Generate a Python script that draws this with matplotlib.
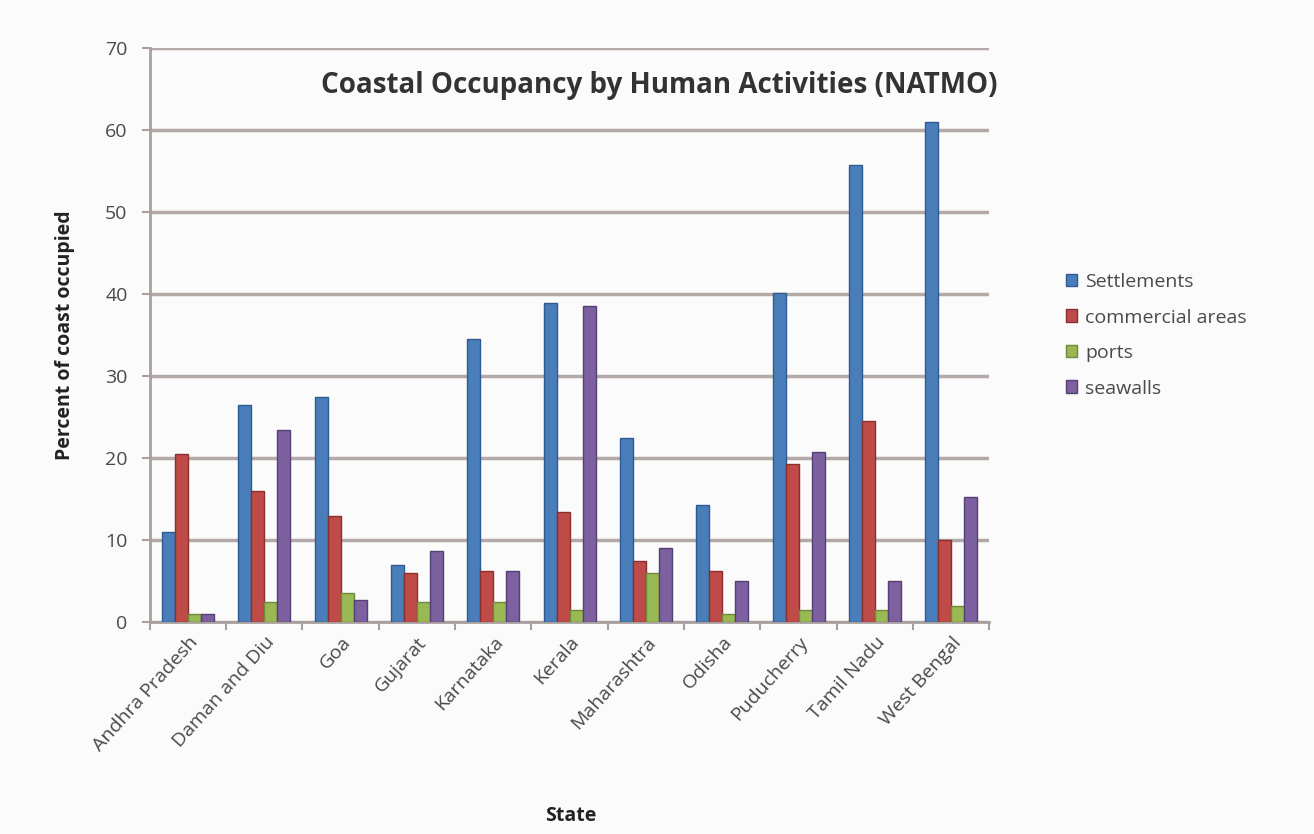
import matplotlib
matplotlib.use("Agg")
import matplotlib.pyplot as plt
import numpy as np

states = ["Andhra Pradesh", "Daman and Diu", "Goa", "Gujarat", "Karnataka", "Kerala",
          "Maharashtra", "Odisha", "Puducherry", "Tamil Nadu", "West Bengal"]
settlements = [11, 26.5, 27.5, 7, 34.5, 38.9, 22.5, 14.3, 40.2, 55.8, 61]
commercial = [20.5, 16, 13, 6, 6.3, 13.5, 7.5, 6.3, 19.3, 24.5, 10]
ports = [1, 2.5, 3.5, 2.5, 2.5, 1.5, 6, 1, 1.5, 1.5, 2]
seawalls = [1, 23.5, 2.7, 8.7, 6.2, 38.6, 9, 5, 20.7, 5, 15.3]

series = [("Settlements", settlements, "#4a7ebb", "#2f5a8f"),
          ("commercial areas", commercial, "#be4b48", "#8a2f2d"),
          ("ports", ports, "#98b954", "#6f8a3a"),
          ("seawalls", seawalls, "#7d60a0", "#554075")]

plt.rcParams["font.family"] = ["Open Sans", "DejaVu Sans"]

fig = plt.figure(figsize=(13.14, 8.34), dpi=100, facecolor="#fbfbfb")
ax = fig.add_axes([0.114, 0.254, 0.639, 0.688], facecolor="#fbfbfb")

x = np.arange(len(states))
w = 0.17
for i, (name, vals, col, edge) in enumerate(series):
    ax.bar(x + (i - 1.5) * w, vals, w, color=col, edgecolor=edge, linewidth=1.0,
           label=name, zorder=3)

ax.set_ylim(0, 70)
ax.set_xlim(-0.5, len(states) - 0.5)
ax.set_yticks(range(0, 71, 10))
ax.yaxis.grid(True, color="#b3a9a6", linewidth=2.5, zorder=0)
ax.set_axisbelow(True)

for s in ["top", "right"]:
    ax.spines[s].set_visible(False)
for s in ["left", "bottom"]:
    ax.spines[s].set_color("#a8a09e")
    ax.spines[s].set_linewidth(2)

ax.tick_params(axis="y", labelsize=14, colors="#a8a09e", labelcolor="#4a4a4a",
               length=6, width=1.5, pad=10)
ax.set_xticks(x)
ax.set_xticklabels(states, rotation=48, ha="right", rotation_mode="anchor",
                   fontsize=14, color="#4a4a4a")
ax.tick_params(axis="x", length=0, pad=8)
ax.set_xticks(np.arange(-0.5, len(states), 1), minor=True)
ax.tick_params(axis="x", which="minor", length=6, width=1.5, colors="#a8a09e")

ax.set_ylabel("Percent of coast occupied", fontsize=14, fontweight="bold",
              color="#222222", labelpad=22)
fig.text(0.434, 0.022, "State", ha="center", va="center", fontsize=14,
         fontweight="bold", color="#222222")

ax.text(0.607, 0.935, "Coastal Occupancy by Human Activities (NATMO)",
        transform=ax.transAxes, ha="center", va="center", fontsize=20,
        fontweight="bold", color="#333333")

leg = ax.legend(loc="center left", bbox_to_anchor=(1.07, 0.5), frameon=False,
                fontsize=14, handlelength=0.6, handleheight=0.6, handletextpad=0.4,
                labelspacing=0.9)
for t in leg.get_texts():
    t.set_color("#4a4a4a")

fig.savefig("out.png", dpi=100, facecolor=fig.get_facecolor())
